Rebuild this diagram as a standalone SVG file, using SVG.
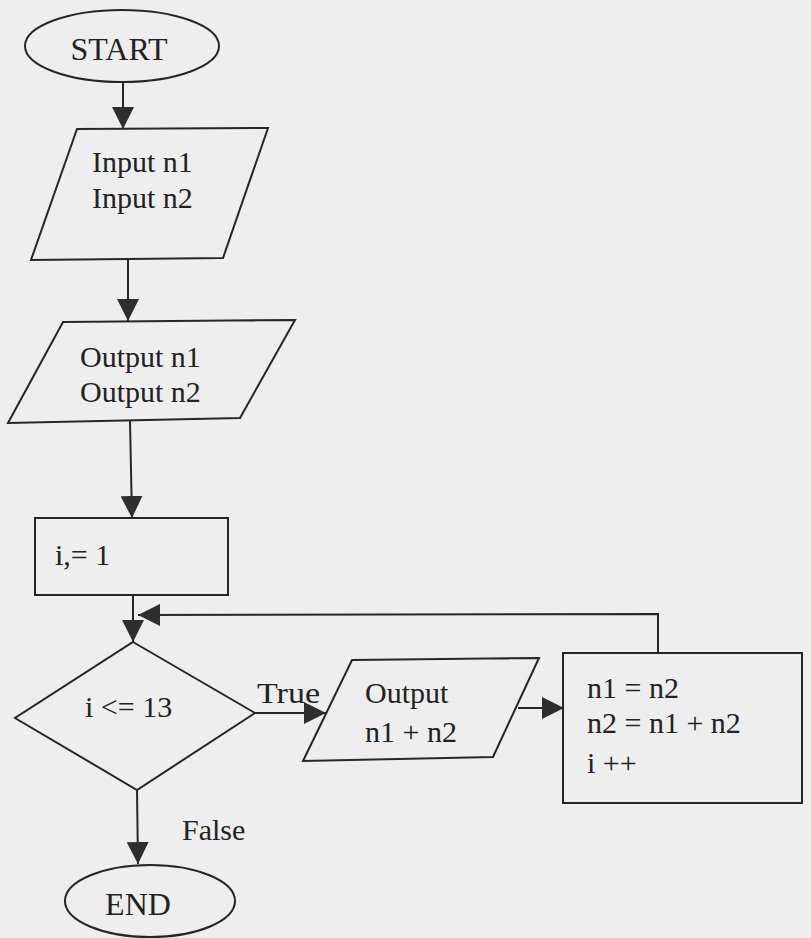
<svg xmlns="http://www.w3.org/2000/svg" width="811" height="938" viewBox="0 0 811 938">
<defs>
<style>
.shape{fill:none;stroke:#262626;stroke-width:2}
.edge{fill:none;stroke:#262626;stroke-width:2}
text{font-family:"Liberation Serif","Times New Roman",serif;font-size:30px;fill:#222}
.big{font-size:32px}
</style>
<marker id="ah" markerUnits="userSpaceOnUse" markerWidth="22" markerHeight="22" viewBox="0 0 20 20" refX="20" refY="10" orient="auto">
<path d="M0,0 L20,10 L0,20 Z" fill="#2e2e2e"/>
</marker>
</defs>
<rect x="0" y="0" width="811" height="938" fill="#eeeeee"/>
<g id="connectors">
<line class="edge" x1="123" y1="82" x2="123" y2="129" marker-end="url(#ah)"/>
<line class="edge" x1="128" y1="259" x2="128" y2="321" marker-end="url(#ah)"/>
<line class="edge" x1="130" y1="421" x2="132" y2="518" marker-end="url(#ah)"/>
<line class="edge" x1="133" y1="595" x2="133" y2="642" marker-end="url(#ah)"/>
<polyline class="edge" points="658,653 658,614 138,615" marker-end="url(#ah)"/>
<line class="edge" x1="255" y1="713" x2="326" y2="713" marker-end="url(#ah)"/>
<line class="edge" x1="518" y1="708" x2="564" y2="708" marker-end="url(#ah)"/>
<line class="edge" x1="137" y1="790" x2="138" y2="864" marker-end="url(#ah)"/>
<text x="257" y="703" textLength="63" lengthAdjust="spacingAndGlyphs">True</text>
<text x="182" y="840">False</text>
</g>
<g id="start">
<ellipse class="shape" cx="122" cy="46" rx="97" ry="36"/>
<text class="big" x="119" y="60" text-anchor="middle">START</text>
</g>
<g id="input">
<polygon class="shape" points="77,129 268,128 223,258 31,260"/>
<text x="92" y="172">Input n1</text>
<text x="92" y="208">Input n2</text>
</g>
<g id="output">
<polygon class="shape" points="63,322 295,320 240,418 8,423"/>
<text x="80" y="367">Output n1</text>
<text x="80" y="402">Output n2</text>
</g>
<g id="init">
<rect class="shape" x="35" y="518" width="193" height="77"/>
<text x="55" y="565">i,= 1</text>
</g>
<g id="decision">
<polygon class="shape" points="133,642 255,713 137,790 15,718"/>
<text x="85" y="717">i &lt;= 13</text>
</g>
<g id="outsum">
<polygon class="shape" points="352,660 539,658 493,757 303,761"/>
<text x="365" y="703">Output</text>
<text x="365" y="742">n1 + n2</text>
</g>
<g id="process">
<rect class="shape" x="563" y="653" width="239" height="150"/>
<text x="587" y="698">n1 = n2</text>
<text x="587" y="733">n2 = n1 + n2</text>
<text x="587" y="773">i ++</text>
</g>
<g id="end">
<ellipse class="shape" cx="150" cy="901" rx="85" ry="36"/>
<text class="big" x="138" y="915" text-anchor="middle">END</text>
</g>
</svg>
